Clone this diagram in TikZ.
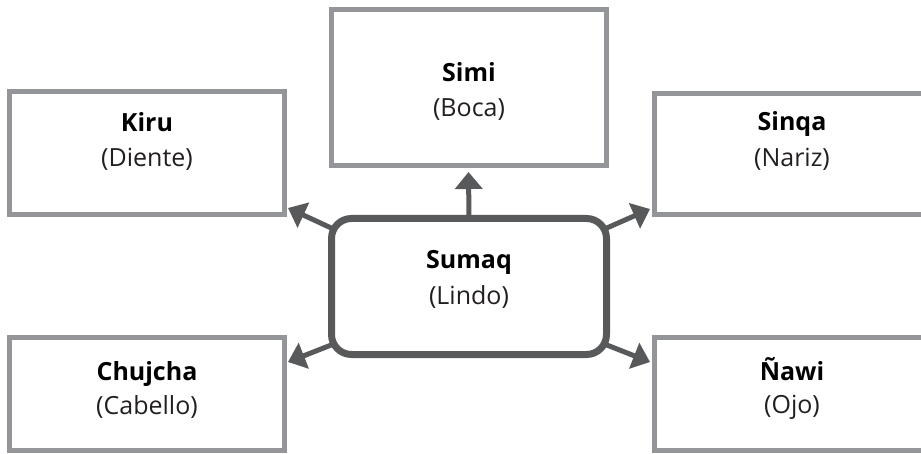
\documentclass[tikz,border=0pt]{standalone}
\usepackage{fontspec}
\setmainfont{Open Sans}
\usetikzlibrary{arrows.meta,calc,backgrounds}
\definecolor{boxgray}{HTML}{939598}
\definecolor{darkgray}{HTML}{58595B}
\definecolor{subtext}{HTML}{231F20}
\tikzset{
  leafbox/.style={draw=boxgray, line width=5pt, fill=white, minimum width=275pt, inner sep=0pt, outer sep=0pt},
  hubbox/.style={draw=darkgray, line width=7pt, fill=white, rounded corners=20pt, minimum width=275pt, minimum height=136pt, inner sep=0pt, outer sep=0pt},
  title/.style={font=\fontsize{25}{30}\selectfont\bfseries, text=black, anchor=base, inner sep=0pt},
  subtitle/.style={font=\fontsize{25}{30}\selectfont, text=subtext, anchor=base, inner sep=0pt},
  arr/.style={draw=darkgray, line width=5pt, -{Triangle[length=17pt,width=27pt]}}
}
\begin{document}
\begin{tikzpicture}[x=1pt,y=-1pt]
\useasboundingbox (0,0) rectangle (921,454);
\clip (0,0) rectangle (921,454);
% boxes
\node[leafbox, minimum height=123pt] (kiru) at (147,153) {};
\node[leafbox, minimum height=156pt] (simi) at (468.5,87.5) {};
\node[leafbox, minimum height=121pt] (sinqa) at (792,154) {};
\node[leafbox, minimum height=113pt] (chujcha) at (147,394) {};
\node[leafbox, minimum height=113pt] (nawi) at (792,394) {};
\node[hubbox] (sumaq) at (469,286.5) {};
% arrows
\begin{scope}[on background layer]
\draw[arr] (sumaq.north) -- ($(simi.south)+(0,6.5)$);
\draw[arr] (sumaq.157) -- ($(kiru.south east)+(3.5,-6.5)$);
\draw[arr] (sumaq.23) -- ($(sinqa.south west)+(-4.5,-5.5)$);
\draw[arr] (sumaq.203) -- ($(chujcha.north east)+(3.5,24.5)$);
\draw[arr] (sumaq.-23) -- ($(nawi.north west)+(-4.5,24.5)$);
\end{scope}
% texts
\node[title] (kiruT) at (147,132) {Kiru};
\node[subtitle] (kiruS) at (147,167) {(Diente)};
\node[title] (simiT) at (469,82) {Simi};
\node[subtitle] (simiS) at (469,117) {(Boca)};
\node[title] (sinqaT) at (792,131) {Sinqa};
\node[subtitle] (sinqaS) at (792,167) {(Nariz)};
\node[title] (sumaqT) at (469,269) {Sumaq};
\node[subtitle] (sumaqS) at (469,305) {(Lindo)};
\node[title] (chujchaT) at (147,380) {Chujcha};
\node[subtitle] (chujchaS) at (147,414) {(Cabello)};
\node[title] (nawiT) at (792,380) {Ñawi};
\node[subtitle] (nawiS) at (792,413) {(Ojo)};
\end{tikzpicture}
\end{document}
